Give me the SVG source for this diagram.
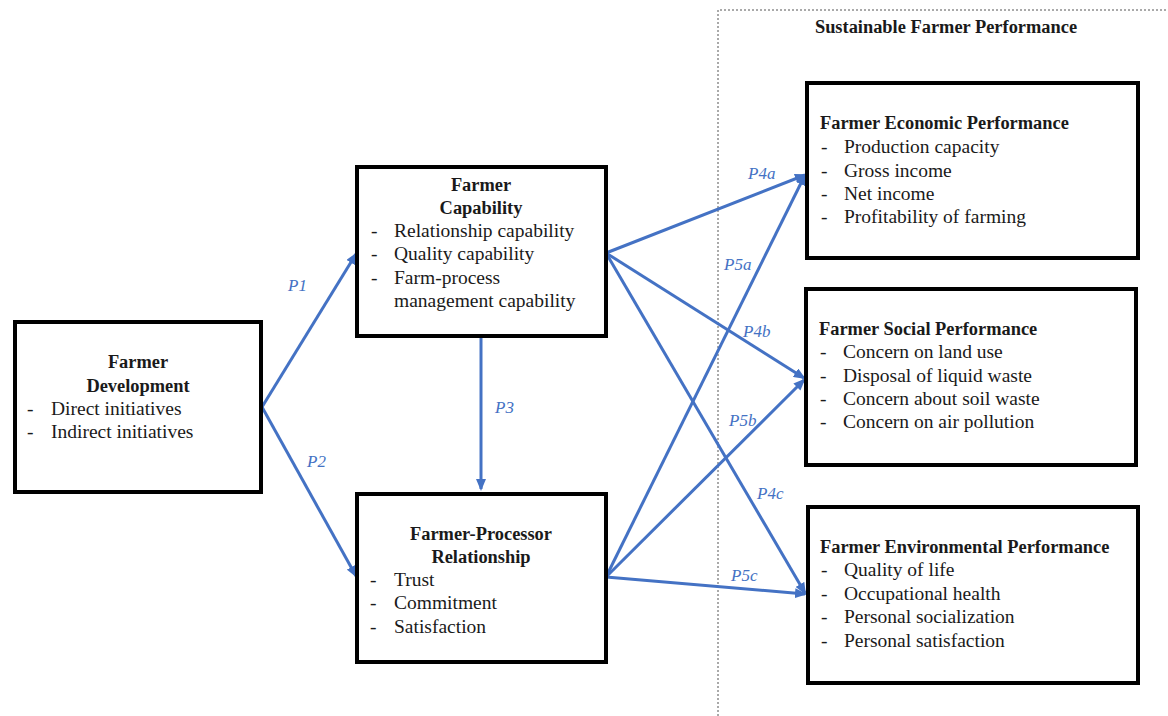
<svg xmlns="http://www.w3.org/2000/svg" width="1168" height="716" viewBox="0 0 1168 716">
<defs>
<style>
.box{fill:#fff;stroke:#000;stroke-width:4}
.t{font-family:"Liberation Serif",serif;font-size:19.5px;fill:#1a1a1a}
.b{font-family:"Liberation Serif",serif;font-size:18.4px;font-weight:bold;fill:#1a1a1a}
.c{text-anchor:middle}
.lbl{font-family:"Liberation Serif",serif;font-size:17px;font-style:italic;fill:#4472C4}
.arr{stroke:#4472C4;stroke-width:3;fill:none;marker-end:url(#ah)}
.frame{stroke:#555;stroke-width:1;fill:none;stroke-dasharray:2 2}
</style>
<marker id="ah" viewBox="0 0 12 10" refX="10" refY="5" markerWidth="12" markerHeight="10" markerUnits="userSpaceOnUse" orient="auto">
<path d="M0,0 L12,5 L0,10 Z" fill="#4472C4"/>
</marker>
</defs>
<rect width="1168" height="716" fill="#fff"/>
<g id="frame">
<path class="frame" d="M718,716 L718,10 L1168,10"/>
<text class="b c" x="946" y="33">Sustainable Farmer Performance</text>
</g>
<g id="connectors">
<line class="arr" x1="262" y1="407" x2="356" y2="254"/>
<line class="arr" x1="262" y1="407" x2="356" y2="576"/>
<line class="arr" x1="481" y1="337" x2="481" y2="489"/>
<line class="arr" x1="606" y1="253" x2="805" y2="175"/>
<line class="arr" x1="606" y1="253" x2="804" y2="378"/>
<line class="arr" x1="606" y1="253" x2="805" y2="593"/>
<line class="arr" x1="606" y1="577" x2="805" y2="175"/>
<line class="arr" x1="606" y1="577" x2="804" y2="380"/>
<line class="arr" x1="606" y1="577" x2="805" y2="594"/>
<text class="lbl" x="288" y="291">P1</text>
<text class="lbl" x="307" y="467">P2</text>
<text class="lbl" x="495" y="413">P3</text>
<text class="lbl" x="748" y="179">P4a</text>
<text class="lbl" x="724" y="270">P5a</text>
<text class="lbl" x="743" y="337">P4b</text>
<text class="lbl" x="729" y="426">P5b</text>
<text class="lbl" x="757" y="499">P4c</text>
<text class="lbl" x="731" y="581">P5c</text>
</g>
<g id="farmer-development">
<rect class="box" x="15" y="322" width="246" height="170"/>
<text class="b c" x="138" y="368">Farmer</text>
<text class="b c" x="138" y="392">Development</text>
<text class="t" x="27" y="415">-</text><text class="t" x="51" y="415">Direct initiatives</text>
<text class="t" x="27" y="438">-</text><text class="t" x="51" y="438">Indirect initiatives</text>
</g>
<g id="farmer-capability">
<rect class="box" x="357" y="167" width="249" height="169"/>
<text class="b c" x="481" y="191">Farmer</text>
<text class="b c" x="481" y="214">Capability</text>
<text class="t" x="371" y="237">-</text><text class="t" x="394" y="237">Relationship capability</text>
<text class="t" x="371" y="260">-</text><text class="t" x="394" y="260">Quality capability</text>
<text class="t" x="371" y="284">-</text><text class="t" x="394" y="284">Farm-process</text>
<text class="t" x="394" y="307">management capability</text>
</g>
<g id="farmer-processor-relationship">
<rect class="box" x="357" y="494" width="249" height="168"/>
<text class="b c" x="481" y="540">Farmer-Processor</text>
<text class="b c" x="481" y="563">Relationship</text>
<text class="t" x="370" y="586">-</text><text class="t" x="394" y="586">Trust</text>
<text class="t" x="370" y="609">-</text><text class="t" x="394" y="609">Commitment</text>
<text class="t" x="370" y="633">-</text><text class="t" x="394" y="633">Satisfaction</text>
</g>
<g id="economic-performance">
<rect class="box" x="807" y="83" width="331" height="175"/>
<text class="b" x="820" y="129">Farmer Economic Performance</text>
<text class="t" x="821" y="153">-</text><text class="t" x="844" y="153">Production capacity</text>
<text class="t" x="821" y="177">-</text><text class="t" x="844" y="177">Gross income</text>
<text class="t" x="821" y="200">-</text><text class="t" x="844" y="200">Net income</text>
<text class="t" x="821" y="223">-</text><text class="t" x="844" y="223">Profitability of farming</text>
</g>
<g id="social-performance">
<rect class="box" x="806" y="289" width="330" height="176"/>
<text class="b" x="819" y="335">Farmer Social Performance</text>
<text class="t" x="820" y="358">-</text><text class="t" x="843" y="358">Concern on land use</text>
<text class="t" x="820" y="382">-</text><text class="t" x="843" y="382">Disposal of liquid waste</text>
<text class="t" x="820" y="405">-</text><text class="t" x="843" y="405">Concern about soil waste</text>
<text class="t" x="820" y="428">-</text><text class="t" x="843" y="428">Concern on air pollution</text>
</g>
<g id="environmental-performance">
<rect class="box" x="808" y="507" width="330" height="176"/>
<text class="b" x="820" y="553">Farmer Environmental Performance</text>
<text class="t" x="821" y="576">-</text><text class="t" x="844" y="576">Quality of life</text>
<text class="t" x="821" y="600">-</text><text class="t" x="844" y="600">Occupational health</text>
<text class="t" x="821" y="623">-</text><text class="t" x="844" y="623">Personal socialization</text>
<text class="t" x="821" y="647">-</text><text class="t" x="844" y="647">Personal satisfaction</text>
</g>
</svg>
